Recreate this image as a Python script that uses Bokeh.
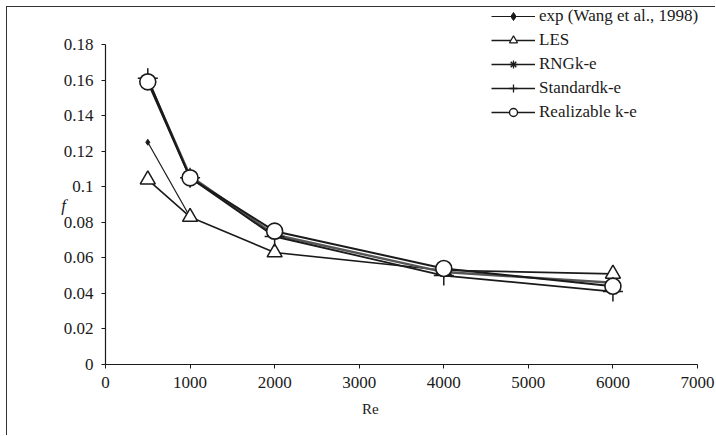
from bokeh.plotting import figure
from bokeh.models import Range1d, FixedTicker, Legend, LegendItem, Label
from bokeh.embed import file_html
from bokeh.resources import INLINE

re_exp = [500, 1000]
f_exp = [0.125, 0.083]

re_sim = [500, 1000, 2000, 4000, 6000]
f_les = [0.104, 0.083, 0.063, 0.053, 0.051]
f_rng = [0.160, 0.106, 0.073, 0.052, 0.046]
f_std = [0.161, 0.105, 0.072, 0.050, 0.041]
f_real = [0.159, 0.105, 0.075, 0.054, 0.044]

x_ticks = [0, 1000, 2000, 3000, 4000, 5000, 6000, 7000]
y_ticks = [0, 0.02, 0.04, 0.06, 0.08, 0.1, 0.12, 0.14, 0.16, 0.18]
y_labels = ["0", "0.02", "0.04", "0.06", "0.08", "0.1", "0.12", "0.14", "0.16", "0.18"]

FONT = "'Liberation Serif', 'Times New Roman', 'DejaVu Serif', serif"
INK = "#1a1a1a"

# canvas: 709 x 429 placed at (7, 7); axis origin at (105, 364), 7000 -> 697, 0.18 -> 44
W, H = 709, 429
px_per_x = 592 / 7000.0
px_per_y = 320 / 0.18
x0 = -(105 - 7) / px_per_x
x1 = x0 + W / px_per_x
y1 = (364 - 7) / px_per_y
y0 = y1 - H / px_per_y

p = figure(width=W, height=H, output_backend="svg", toolbar_location=None,
           x_range=Range1d(x0, x1), y_range=Range1d(y0, y1),
           min_border=0, min_border_left=0, min_border_right=0,
           min_border_top=0, min_border_bottom=0)
p.margin = (6, 0, 0, 6)
p.styles = {"border-left": "1px solid #333", "border-top": "1px solid #333"}
p.outline_line_color = None
p.xgrid.visible = False
p.ygrid.visible = False
p.background_fill_color = "white"

for ax in (p.xaxis[0], p.yaxis[0]):
    ax.fixed_location = 0
    ax.axis_line_color = INK
    ax.axis_line_width = 1.2
    ax.major_tick_line_color = INK
    ax.major_tick_in = 0
    ax.major_tick_out = 4
    ax.minor_tick_line_color = None
    ax.major_label_text_font = FONT
    ax.major_label_text_font_size = "17px"
    ax.major_label_text_color = INK

p.xaxis.ticker = FixedTicker(ticks=x_ticks)
p.xaxis.bounds = (0, 7000)
p.xaxis.major_label_standoff = 8

p.yaxis.ticker = FixedTicker(ticks=y_ticks)
p.yaxis.bounds = (0, 0.18)
p.yaxis.major_label_overrides = {t: l for t, l in zip(y_ticks, y_labels)}
p.yaxis.major_label_standoff = 8

# axis titles
p.add_layout(Label(x=3130, y=-(408 - 364) / px_per_y, text="Re",
                   text_font=FONT, text_font_size="15px", text_color=INK,
                   text_align="center", text_baseline="middle"))
p.add_layout(Label(x=-(105 - 63) / px_per_x, y=0.0895, text="f",
                   text_font=FONT, text_font_style="italic", text_font_size="17px",
                   text_color=INK, text_align="center", text_baseline="middle"))

# lines
l_exp = p.line(re_exp, f_exp, line_color=INK, line_width=1.2)
m_exp = p.scatter(re_exp[:1], f_exp[:1], marker="diamond", size=6, fill_color=INK, line_color=INK)
l_les = p.line(re_sim, f_les, line_color=INK, line_width=1.6)
m_les = p.scatter(re_sim, f_les, marker="triangle", size=15, fill_color="white", line_color=INK, line_width=1.5)
l_rng = p.line(re_sim, f_rng, line_color="#555555", line_width=2.4)
m_rng = p.scatter(re_sim, f_rng, marker="asterisk", size=11, line_color=INK, line_width=1.3)
l_std = p.line(re_sim, f_std, line_color=INK, line_width=1.8)
m_std = p.scatter(re_sim, f_std, marker="cross", size=20, line_color=INK, line_width=1.5)
l_real = p.line(re_sim, f_real, line_color=INK, line_width=2.0)
m_real = p.scatter(re_sim, f_real, marker="circle", size=16, fill_color="white", line_color=INK, line_width=1.6)

# legend glyph proxies (not visible in plot)
lg_exp_m = p.scatter([0], [0], marker="diamond", size=5, fill_color=INK, line_color=INK, visible=False)
lg_les_m = p.scatter([0], [0], marker="triangle", size=10, fill_color="white", line_color=INK, line_width=1.2, visible=False)
lg_rng_m = p.scatter([0], [0], marker="asterisk", size=10, line_color=INK, line_width=1.3, visible=False)
lg_std_m = p.scatter([0], [0], marker="cross", size=15, line_color=INK, line_width=1.3, visible=False)
lg_real_m = p.scatter([0], [0], marker="circle", size=15, fill_color="white", line_color=INK, line_width=1.4, visible=False)

items = [
    LegendItem(label="exp (Wang et al., 1998)", renderers=[l_exp, lg_exp_m]),
    LegendItem(label="LES", renderers=[l_les, lg_les_m]),
    LegendItem(label="RNGk-e", renderers=[l_les, lg_rng_m]),
    LegendItem(label="Standardk-e", renderers=[l_les, lg_std_m]),
    LegendItem(label="Realizable k-e", renderers=[l_les, lg_real_m]),
]
legend = Legend(items=items, location=(484, 314), border_line_color=None,
                background_fill_alpha=0, glyph_width=44, glyph_height=20,
                label_text_font=FONT, label_text_font_size="17px", label_text_color=INK,
                spacing=4, padding=2, margin=0, label_standoff=4)
p.add_layout(legend, "center")

open("out.html", "w").write(file_html(p, INLINE))
